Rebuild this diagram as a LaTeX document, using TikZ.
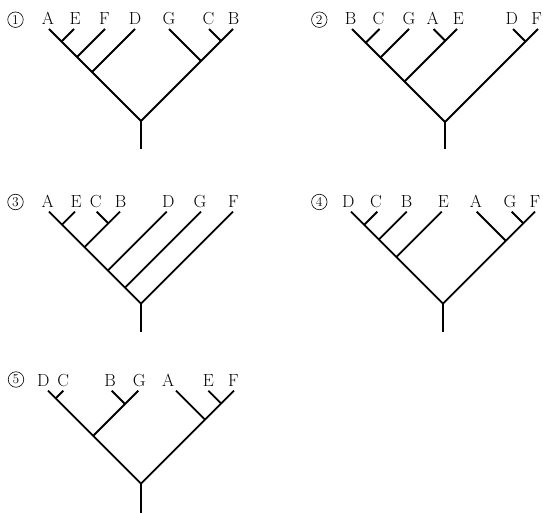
\documentclass[tikz,border=0pt]{standalone}
\usepackage{fontspec}
\begin{document}
\begin{tikzpicture}[x=1pt,y=-1pt,
  br/.style={line width=1.8pt},
  lab/.style={anchor=base,inner sep=0pt,font=\fontsize{17.5}{20}\selectfont},
  num/.style={circle,draw,line width=0.6pt,minimum size=15.5pt,inner sep=0pt,font=\fontsize{13.5}{14}\selectfont}]
\useasboundingbox (0,0) rectangle (543,513);
% ---------- tree 1 ----------
\node[num] (n1) at (15.5,19.7) {1};
\coordinate (t1A) at (49,29);
\coordinate (t1E) at (74,29);
\coordinate (t1F) at (105,29);
\coordinate (t1D) at (135,29);
\coordinate (t1G) at (169,29);
\coordinate (t1C) at (209,29);
\coordinate (t1B) at (233,29);
\coordinate (t1AE) at (61.5,41.5);
\coordinate (t1AEF) at (77,57);
\coordinate (t1AEFD) at (92,72);
\coordinate (t1CB) at (221,41);
\coordinate (t1GCB) at (201,61);
\coordinate (t1R) at (141,121);
\coordinate (t1S) at (141,149);
\node[lab] (l1A) at (48,25) {A};
\node[lab] (l1E) at (75,25) {E};
\node[lab] (l1F) at (104.5,25) {F};
\node[lab] (l1D) at (135,25) {D};
\node[lab] (l1G) at (169,25) {G};
\node[lab] (l1C) at (208.5,25) {C};
\node[lab] (l1B) at (233.5,25) {B};
\draw[br] (t1A) -- (t1R) -- (t1B);
\draw[br] (t1E) -- (t1AE);
\draw[br] (t1F) -- (t1AEF);
\draw[br] (t1D) -- (t1AEFD);
\draw[br] (t1C) -- (t1CB);
\draw[br] (t1G) -- (t1GCB);
\draw[br] (t1R) -- (t1S);
% ---------- tree 2 ----------
\node[num] (n2) at (319.3,19.7) {2};
\coordinate (t2B) at (352,29);
\coordinate (t2C) at (379.5,29);
\coordinate (t2G) at (409,29);
\coordinate (t2A) at (433.5,29);
\coordinate (t2E) at (457,29);
\coordinate (t2D) at (513,29);
\coordinate (t2F) at (538,29);
\coordinate (t2BC) at (365.75,42.75);
\coordinate (t2BCG) at (380.5,57.5);
\coordinate (t2AE) at (445.25,40.75);
\coordinate (t2BCGAE) at (404.5,81.5);
\coordinate (t2DF) at (525.5,41.5);
\coordinate (t2R) at (445,122);
\coordinate (t2S) at (445,149);
\node[lab] (l2B) at (350.5,25) {B};
\node[lab] (l2C) at (378.5,25) {C};
\node[lab] (l2G) at (409,25) {G};
\node[lab] (l2A) at (432.7,25) {A};
\node[lab] (l2E) at (458.3,25) {E};
\node[lab] (l2D) at (511.7,25) {D};
\node[lab] (l2F) at (536.7,25) {F};
\draw[br] (t2B) -- (t2R) -- (t2F);
\draw[br] (t2C) -- (t2BC);
\draw[br] (t2G) -- (t2BCG);
\draw[br] (t2E) -- (t2BCGAE);
\draw[br] (t2A) -- (t2AE);
\draw[br] (t2D) -- (t2DF);
\draw[br] (t2R) -- (t2S);
% ---------- tree 3 ----------
\node[num] (n3) at (15.5,202) {3};
\coordinate (t3A) at (49,211.7);
\coordinate (t3E) at (75,211.7);
\coordinate (t3C) at (96.7,211.7);
\coordinate (t3B) at (120,211.7);
\coordinate (t3D) at (166.7,211.7);
\coordinate (t3G) at (201,211.7);
\coordinate (t3F) at (233,211.7);
\coordinate (t3AE) at (62,224.7);
\coordinate (t3CB) at (108.35,223.35);
\coordinate (t3AECB) at (84.5,247.2);
\coordinate (t3AECBD) at (107.85,270.55);
\coordinate (t3AECBDG) at (125,287.7);
\coordinate (t3R) at (141,303.7);
\coordinate (t3S) at (141,331.7);
\node[lab] (l3A) at (47.7,207.3) {A};
\node[lab] (l3E) at (76,207.3) {E};
\node[lab] (l3C) at (95.7,207.3) {C};
\node[lab] (l3B) at (120.7,207.3) {B};
\node[lab] (l3D) at (168.3,207.3) {D};
\node[lab] (l3G) at (200,207.3) {G};
\node[lab] (l3F) at (233.3,207.3) {F};
\draw[br] (t3A) -- (t3R) -- (t3F);
\draw[br] (t3E) -- (t3AE);
\draw[br] (t3B) -- (t3AECB);
\draw[br] (t3C) -- (t3CB);
\draw[br] (t3D) -- (t3AECBD);
\draw[br] (t3G) -- (t3AECBDG);
\draw[br] (t3R) -- (t3S);
% ---------- tree 4 ----------
\node[num] (n4) at (319.3,202) {4};
\coordinate (t4D) at (351,211.7);
\coordinate (t4C) at (377.3,211.7);
\coordinate (t4B) at (406.7,211.7);
\coordinate (t4E) at (441.7,211.7);
\coordinate (t4A) at (476.7,211.7);
\coordinate (t4G) at (511.7,211.7);
\coordinate (t4F) at (535,211.7);
\coordinate (t4DC) at (364.15,224.85);
\coordinate (t4DCB) at (378.85,239.55);
\coordinate (t4DCBE) at (396.35,257.05);
\coordinate (t4GF) at (523.35,223.35);
\coordinate (t4AGF) at (505.85,240.85);
\coordinate (t4R) at (443,303.7);
\coordinate (t4S) at (443,331.7);
\node[lab] (l4D) at (348.3,207.3) {D};
\node[lab] (l4C) at (376,207.3) {C};
\node[lab] (l4B) at (406.7,207.3) {B};
\node[lab] (l4E) at (443.3,207.3) {E};
\node[lab] (l4A) at (476,207.3) {A};
\node[lab] (l4G) at (510,207.3) {G};
\node[lab] (l4F) at (535,207.3) {F};
\draw[br] (t4D) -- (t4R) -- (t4F);
\draw[br] (t4C) -- (t4DC);
\draw[br] (t4B) -- (t4DCB);
\draw[br] (t4E) -- (t4DCBE);
\draw[br] (t4G) -- (t4GF);
\draw[br] (t4A) -- (t4AGF);
\draw[br] (t4R) -- (t4S);
% ---------- tree 5 ----------
\node[num] (n5) at (16,379.5) {5};
\coordinate (t5D) at (48,390.7);
\coordinate (t5C) at (63.3,390.7);
\coordinate (t5B) at (111.7,390.7);
\coordinate (t5G) at (138.3,390.7);
\coordinate (t5A) at (176,390.7);
\coordinate (t5E) at (208.3,390.7);
\coordinate (t5F) at (234,390.7);
\coordinate (t5DC) at (55.65,398.35);
\coordinate (t5BG) at (125,404);
\coordinate (t5DCBG) at (93.15,435.85);
\coordinate (t5EF) at (221.15,403.55);
\coordinate (t5AEF) at (205,419.7);
\coordinate (t5R) at (141,483.7);
\coordinate (t5S) at (141,513);
\node[lab] (l5D) at (43.3,386) {D};
\node[lab] (l5C) at (63.3,386) {C};
\node[lab] (l5B) at (110,386) {B};
\node[lab] (l5G) at (139.3,386) {G};
\node[lab] (l5A) at (168.3,386) {A};
\node[lab] (l5E) at (208.3,386) {E};
\node[lab] (l5F) at (233.3,386) {F};
\draw[br] (t5D) -- (t5R) -- (t5F);
\draw[br] (t5C) -- (t5DC);
\draw[br] (t5G) -- (t5DCBG);
\draw[br] (t5B) -- (t5BG);
\draw[br] (t5E) -- (t5EF);
\draw[br] (t5A) -- (t5AEF);
\draw[br] (t5R) -- (t5S);
\end{tikzpicture}
\end{document}
